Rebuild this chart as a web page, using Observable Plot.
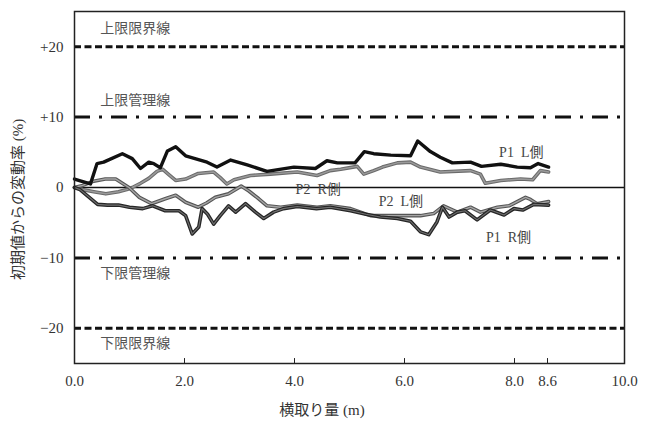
<!DOCTYPE html>
<html>
<head>
<meta charset="utf-8">
<script src="https://cdn.jsdelivr.net/npm/d3@7"></script>
<script src="https://cdn.jsdelivr.net/npm/@observablehq/plot@0.6"></script>
<style>
  html, body { margin: 0; padding: 0; background: #fff; }
  #chart { width: 645px; height: 425px; }
</style>
</head>
<body>
<div id="chart"></div>
<script>
// ---- data ----
const xTicks = [0, 2, 4, 6, 8, 8.6, 10];
const xTickLabels = ["0.0", "2.0", "4.0", "6.0", "8.0", "8.6", "10.0"];
const yTicks = [20, 10, 0, -10, -20];
const yTickLabels = ["+20", "+10", "0", "\u221210", "\u221220"];

const limitLines = [20, -20];      // 限界線
const controlLines = [10, -10];    // 管理線
const refLabels = [
  {x: 0.47, y: 22.6, text: "上限限界線"},
  {x: 0.47, y: 12.4, text: "上限管理線"},
  {x: 0.47, y: -12.2, text: "下限管理線"},
  {x: 0.47, y: -22.2, text: "下限限界線"}
];
const seriesLabels = [
  {x: 7.72, y: 5.0, text: "P1\u2002L側"},
  {x: 4.02, y: -0.3, text: "P2\u2002R側"},
  {x: 5.53, y: -2.0, text: "P2\u2002L側"},
  {x: 7.48, y: -7.1, text: "P1\u2002R側"}
];
const xTitle = "横取り量 (m)";
const yTitle = "初期値からの変動率 (%)";

const p1L = [[0,1.2],[0.12,0.9],[0.29,0.5],[0.41,3.4],[0.53,3.6],[0.87,4.8],[1.05,4.1],[1.2,2.7],[1.35,3.6],[1.44,3.4],[1.56,2.8],[1.69,5.2],[1.84,5.8],[2.02,4.5],[2.41,3.6],[2.59,2.9],[2.84,3.9],[3.14,3.2],[3.5,2.3],[3.99,2.9],[4.38,2.7],[4.59,3.8],[4.78,3.5],[5.1,3.5],[5.27,5.1],[5.44,4.8],[5.75,4.6],[6.11,4.5],[6.24,6.6],[6.47,5.1],[6.65,4.3],[6.87,3.5],[7.2,3.6],[7.4,3.0],[7.75,3.3],[8.05,2.9],[8.29,2.8],[8.43,3.4],[8.62,2.9]];
const p2R = [[0,0],[0.15,-0.3],[0.35,-0.6],[0.57,-0.9],[0.8,-0.6],[0.95,-0.3],[1.05,0],[1.2,0.6],[1.35,1.3],[1.5,2.3],[1.6,2.6],[1.72,1.8],[1.84,1.0],[2.02,1.2],[2.25,2.0],[2.53,2.2],[2.65,1.4],[2.77,0.5],[2.9,1.1],[3.2,1.7],[3.56,1.9],[4.05,2.2],[4.41,1.7],[4.65,2.4],[4.84,2.6],[5.14,3.0],[5.26,1.9],[5.44,2.4],[5.6,2.9],[5.87,3.5],[6.11,3.6],[6.29,2.9],[6.65,2.2],[7.2,2.4],[7.38,1.9],[7.47,0.6],[7.75,1.0],[8.11,1.2],[8.33,1.1],[8.47,2.4],[8.62,2.2]];
const p2L = [[0,0],[0.15,0.3],[0.35,0.9],[0.56,1.2],[0.75,1.2],[0.99,0],[1.18,-1.4],[1.4,-2.3],[1.65,-1.6],[1.84,-1.1],[2.02,-2.1],[2.25,-2.8],[2.4,-2.2],[2.56,-1.4],[2.8,-0.9],[3.03,0.2],[3.17,-0.5],[3.35,-1.6],[3.5,-2.6],[3.75,-2.8],[4.05,-2.5],[4.41,-2.8],[4.65,-2.6],[5.02,-3.0],[5.38,-4.0],[5.87,-4.0],[6.29,-4.0],[6.53,-3.7],[6.71,-2.6],[6.96,-3.5],[7.2,-2.8],[7.38,-3.5],[7.69,-2.8],[7.9,-2.6],[8.2,-1.4],[8.29,-1.7],[8.41,-2.3],[8.62,-2.0]];
const p1R = [[0,0],[0.1,-0.3],[0.3,-1.6],[0.42,-2.4],[0.6,-2.5],[0.8,-2.5],[1.0,-2.8],[1.24,-3.0],[1.42,-2.6],[1.65,-3.3],[1.9,-3.3],[2.02,-4.0],[2.14,-6.6],[2.26,-5.6],[2.32,-3.0],[2.42,-3.8],[2.53,-5.2],[2.65,-4.0],[2.8,-2.6],[2.93,-3.5],[3.11,-2.3],[3.29,-3.5],[3.44,-4.4],[3.62,-3.5],[3.8,-3.0],[4.05,-2.7],[4.4,-3.0],[4.65,-2.8],[5.02,-3.3],[5.3,-3.8],[5.56,-4.2],[5.87,-4.4],[6.11,-4.8],[6.29,-6.3],[6.44,-6.7],[6.59,-4.9],[6.69,-2.8],[6.81,-4.2],[6.96,-3.5],[7.1,-3.3],[7.32,-4.6],[7.56,-3.2],[7.81,-3.9],[7.99,-3.0],[8.15,-3.2],[8.35,-2.4],[8.62,-2.5]];

const FONT = "'Liberation Serif', 'DejaVu Serif', 'Noto Sans CJK JP', serif";

const chart = Plot.plot({
  width: 645,
  height: 425,
  marginLeft: 74,
  marginRight: 21,
  marginTop: 11,
  marginBottom: 62,
  style: {fontFamily: FONT, fontSize: "14px", background: "#fff", color: "#333"},
  x: {domain: [0, 10]},
  y: {domain: [-25, 25]},
  marks: [
    // reference lines
    Plot.ruleY(limitLines, {stroke: "#111", strokeWidth: 3, strokeDasharray: "7,3.5"}),
    Plot.ruleY(controlLines, {stroke: "#111", strokeWidth: 3, strokeDasharray: "16,9,3,9"}),
    Plot.ruleY([0], {stroke: "#111", strokeWidth: 1.3}),
    // series
    Plot.line(p2R, {x: d => d[0], y: d => d[1], stroke: "#6a6a6a", strokeWidth: 3.6}),
    Plot.line(p2R, {x: d => d[0], y: d => d[1], stroke: "#9a9a9a", strokeWidth: 1.5}),
    Plot.line(p2L, {x: d => d[0], y: d => d[1], stroke: "#555", strokeWidth: 3.6}),
    Plot.line(p2L, {x: d => d[0], y: d => d[1], stroke: "#a5a5a5", strokeWidth: 1.4}),
    Plot.line(p1R, {x: d => d[0], y: d => d[1], stroke: "#262626", strokeWidth: 3.6}),
    Plot.line(p1R, {x: d => d[0], y: d => d[1], stroke: "#707070", strokeWidth: 1.1}),
    Plot.line(p1L, {x: d => d[0], y: d => d[1], stroke: "#111", strokeWidth: 3.4}),
    // labels
    Plot.text(refLabels, {x: "x", y: "y", text: "text", textAnchor: "start", fill: "#555", fontSize: 14}),
    Plot.text(seriesLabels, {x: "x", y: "y", text: "text", textAnchor: "start", fill: "#444", fontSize: 14}),
    // inner x ticks
    Plot.ruleX(xTicks.filter(d => d > 0 && d < 10), {y1: -25, y2: -24.3, stroke: "#222", strokeWidth: 1}),
    // axes
    Plot.axisX({ticks: xTicks, tickSize: 0, tickPadding: 12, tickFormat: d => xTickLabels[xTicks.indexOf(d)], label: null, fill: "#333", fontSize: 15}),
    Plot.axisY({ticks: yTicks, tickSize: 0, tickPadding: 11, tickFormat: d => yTickLabels[yTicks.indexOf(d)], label: null, fill: "#333", fontSize: 15}),
    Plot.text([xTitle], {x: () => 4.5, y: () => -31.6, fill: "#333", fontSize: 15}),
    Plot.text([yTitle], {x: () => -1.02, y: () => -1.7, rotate: -90, fill: "#333", fontSize: 15}),
    Plot.frame({stroke: "#222", strokeWidth: 1.5})
  ]
});
document.getElementById("chart").appendChild(chart);
</script>
</body>
</html>
